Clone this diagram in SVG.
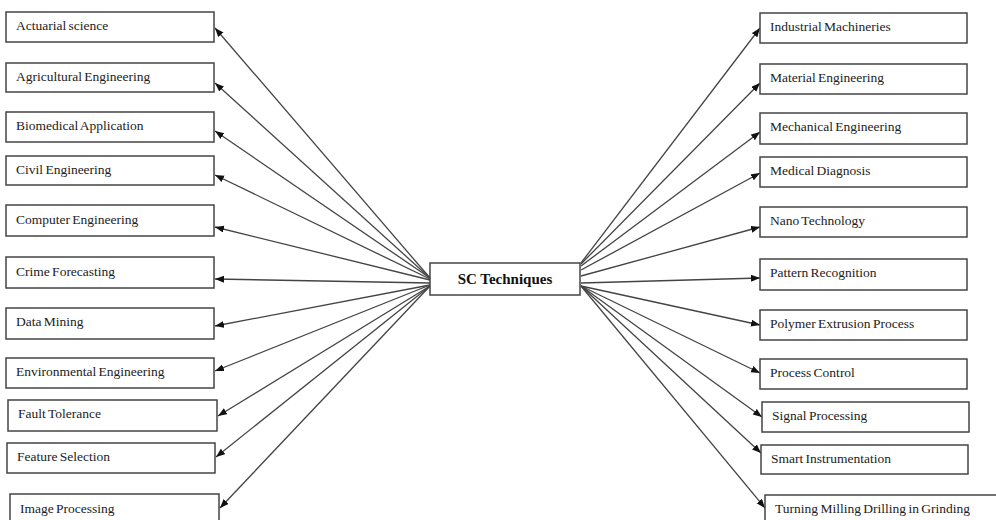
<svg xmlns="http://www.w3.org/2000/svg" width="996" height="520" viewBox="0 0 996 520">
<defs>
<marker id="ah" markerUnits="userSpaceOnUse" markerWidth="10" markerHeight="8" refX="9" refY="3.5" orient="auto">
<path d="M0,0 L9,3.5 L0,7 z" fill="#111"/>
</marker>
<style>
.box{fill:#fff;stroke:#444;stroke-width:1.5}
.t{font-family:"Liberation Serif","Times New Roman",serif;font-size:13.5px;fill:#222;word-spacing:-1px}
.c{font-family:"Liberation Serif","Times New Roman",serif;font-size:15px;font-weight:bold;fill:#111;text-anchor:middle}
.ln{stroke:#444;stroke-width:1.3;fill:none;marker-end:url(#ah)}
</style>
</defs>
<rect width="996" height="520" fill="#fff"/>
<g id="connectors">
<line class="ln" x1="430" y1="278" x2="215" y2="28"/>
<line class="ln" x1="430" y1="278" x2="215" y2="83"/>
<line class="ln" x1="430" y1="278" x2="215" y2="131"/>
<line class="ln" x1="430" y1="279" x2="215" y2="175"/>
<line class="ln" x1="430" y1="280" x2="215" y2="227"/>
<line class="ln" x1="430" y1="283" x2="215" y2="279"/>
<line class="ln" x1="430" y1="285" x2="215" y2="326"/>
<line class="ln" x1="430" y1="285" x2="215" y2="371"/>
<line class="ln" x1="430" y1="286" x2="218" y2="416"/>
<line class="ln" x1="430" y1="286" x2="216" y2="457"/>
<line class="ln" x1="430" y1="286" x2="220" y2="508"/>
<line class="ln" x1="581" y1="263" x2="760" y2="28"/>
<line class="ln" x1="581" y1="264" x2="760" y2="83"/>
<line class="ln" x1="581" y1="266" x2="760" y2="132"/>
<line class="ln" x1="581" y1="270" x2="760" y2="173"/>
<line class="ln" x1="581" y1="276" x2="760" y2="227"/>
<line class="ln" x1="581" y1="283" x2="760" y2="278"/>
<line class="ln" x1="581" y1="286" x2="760" y2="325"/>
<line class="ln" x1="581" y1="286" x2="760" y2="373"/>
<line class="ln" x1="581" y1="286" x2="762" y2="417"/>
<line class="ln" x1="581" y1="286" x2="761" y2="453"/>
<line class="ln" x1="581" y1="286" x2="765" y2="508"/>
</g>
<g id="center"><rect class="box" x="430" y="263" width="150" height="32"/><text class="c" x="505" y="284">SC Techniques</text></g>
<g id="n-actuarial"><rect class="box" x="6" y="12" width="208" height="30"/><text class="t" x="16" y="30">Actuarial science</text></g>
<g id="n-agricultural"><rect class="box" x="6" y="63" width="208" height="29"/><text class="t" x="16" y="81">Agricultural Engineering</text></g>
<g id="n-biomedical"><rect class="box" x="6" y="112" width="208" height="30"/><text class="t" x="16" y="130">Biomedical Application</text></g>
<g id="n-civil"><rect class="box" x="6" y="156" width="208" height="29"/><text class="t" x="16" y="174">Civil Engineering</text></g>
<g id="n-computer"><rect class="box" x="6" y="205" width="208" height="31"/><text class="t" x="16" y="224">Computer Engineering</text></g>
<g id="n-crime"><rect class="box" x="6" y="257" width="208" height="31"/><text class="t" x="16" y="276">Crime Forecasting</text></g>
<g id="n-datamining"><rect class="box" x="6" y="308" width="208" height="31"/><text class="t" x="16" y="326">Data Mining</text></g>
<g id="n-environmental"><rect class="box" x="6" y="358" width="208" height="30"/><text class="t" x="16" y="376">Environmental Engineering</text></g>
<g id="n-fault"><rect class="box" x="8" y="400" width="209" height="31"/><text class="t" x="18" y="418">Fault Tolerance</text></g>
<g id="n-feature"><rect class="box" x="7" y="443" width="208" height="30"/><text class="t" x="17" y="461">Feature Selection</text></g>
<g id="n-image"><rect class="box" x="10" y="494" width="209" height="40"/><text class="t" x="20" y="513">Image Processing</text></g>
<g id="n-industrial"><rect class="box" x="760" y="13" width="207" height="30"/><text class="t" x="770" y="31">Industrial Machineries</text></g>
<g id="n-material"><rect class="box" x="760" y="64" width="207" height="30"/><text class="t" x="770" y="82">Material Engineering</text></g>
<g id="n-mechanical"><rect class="box" x="760" y="113" width="207" height="31"/><text class="t" x="770" y="131">Mechanical Engineering</text></g>
<g id="n-medical"><rect class="box" x="760" y="157" width="207" height="30"/><text class="t" x="770" y="175">Medical Diagnosis</text></g>
<g id="n-nano"><rect class="box" x="760" y="207" width="207" height="30"/><text class="t" x="770" y="225">Nano Technology</text></g>
<g id="n-pattern"><rect class="box" x="760" y="259" width="207" height="31"/><text class="t" x="770" y="277">Pattern Recognition</text></g>
<g id="n-polymer"><rect class="box" x="760" y="310" width="207" height="30"/><text class="t" x="770" y="328">Polymer Extrusion Process</text></g>
<g id="n-process"><rect class="box" x="760" y="359" width="207" height="30"/><text class="t" x="770" y="377">Process Control</text></g>
<g id="n-signal"><rect class="box" x="762" y="402" width="207" height="30"/><text class="t" x="772" y="420">Signal Processing</text></g>
<g id="n-smart"><rect class="box" x="761" y="445" width="207" height="29"/><text class="t" x="771" y="463">Smart Instrumentation</text></g>
<g id="n-turning"><rect class="box" x="765" y="495" width="240" height="40"/><text class="t" x="775" y="513">Turning Milling Drilling in Grinding</text></g>
</svg>
